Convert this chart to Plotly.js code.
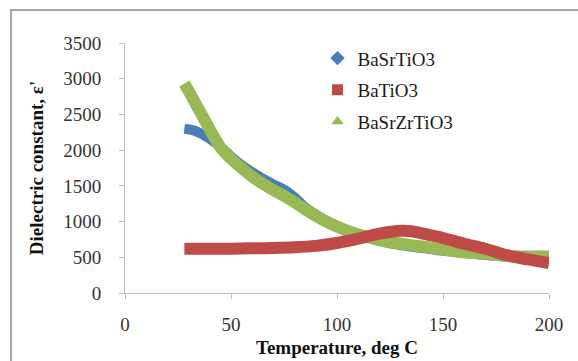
<!DOCTYPE html>
<html>
<head>
<meta charset="utf-8">
<script src="https://cdn.plot.ly/plotly-3.0.1.min.js"></script>
<style>
html,body{margin:0;padding:0;background:#fff;overflow:hidden;width:578px;height:361px;}
#frame{position:absolute;left:10px;top:9px;width:570px;height:360px;border-left:2px solid #a6a6a6;border-top:2px solid #a6a6a6;}
#chart{position:absolute;left:0;top:0;width:578px;height:361px;}
</style>
</head>
<body>
<div id="frame"></div>
<div id="chart"></div>
<script>
// Temperature (deg C) and dielectric constant readings
const tempBST = [28, 32, 36, 40, 45, 50, 55, 60, 65, 70, 75, 80, 85, 90, 95, 100, 105, 110, 120, 130, 140, 150, 160, 170, 180, 190, 200];
const epsBST  = [2300, 2280, 2230, 2160, 2050, 1910, 1790, 1690, 1600, 1520, 1450, 1340, 1200, 1100, 1010, 940, 870, 820, 730, 670, 630, 590, 560, 530, 510, 490, 490];

const tempBT = [28, 40, 50, 60, 70, 80, 90, 100, 110, 120, 130, 135, 140, 150, 160, 170, 180, 190, 200];
const epsBT  = [620, 620, 620, 625, 630, 640, 660, 700, 760, 830, 870, 865, 835, 770, 690, 620, 530, 470, 420];

const tempBSZT = [28, 30, 35, 40, 45, 50, 55, 60, 65, 70, 75, 80, 85, 90, 95, 100, 105, 110, 115, 120, 125, 130, 135, 140, 145, 150, 160, 170, 180, 190, 200];
const epsBSZT  = [2930, 2830, 2560, 2290, 2040, 1880, 1750, 1630, 1530, 1440, 1360, 1270, 1170, 1080, 1000, 930, 870, 820, 780, 740, 710, 690, 670, 650, 630, 610, 570, 550, 520, 510, 510];

const names = ['BaSrTiO3', 'BaTiO3', 'BaSrZrTiO3'];
const colors = ['#4a7ebb', '#be4b48', '#98b954'];
const symbols = ['diamond', 'square', 'triangle-up'];
const xs = [tempBST, tempBT, tempBSZT];
const ys = [epsBST, epsBT, epsBSZT];
const widths = [10, 12, 12];

const traces = [];
[0, 2, 1].forEach(i => {
  traces.push({
    x: xs[i], y: ys[i], type: 'scatter', mode: 'lines',
    line: {color: colors[i], width: widths[i], shape: 'spline', smoothing: 0.8},
    showlegend: false, hoverinfo: 'skip'
  });
});
[0, 1, 2].forEach(i => {
  traces.push({
    x: [null], y: [null], type: 'scatter', mode: 'markers', name: names[i],
    legendgroup: 'g' + i,
    marker: {color: colors[i], symbol: symbols[i], size: 11}
  });
});

const serif = 'Liberation Serif, Times New Roman, serif';
const layout = {
  width: 578, height: 361,
  margin: {l: 125, r: 29, t: 43, b: 68},
  paper_bgcolor: 'rgba(0,0,0,0)',
  plot_bgcolor: 'rgba(0,0,0,0)',
  showlegend: true,
  legend: {x: 0.454, y: 1.015, xanchor: 'left', yanchor: 'top',
    font: {family: serif, size: 19, color: '#1a1a1a'},
    tracegroupgap: 4, bgcolor: 'rgba(0,0,0,0)'},
  xaxis: {
    range: [0, 200], tickvals: [0, 50, 100, 150, 200],
    showgrid: false, zeroline: false, showline: true, linecolor: '#bfbfbf', linewidth: 1,
    ticks: 'outside', ticklen: 5, tickcolor: '#bfbfbf', ticklabelstandoff: 9,
    tickfont: {family: serif, size: 19, color: '#333'},
    title: {text: '<b>Temperature, deg C</b>', font: {family: serif, size: 19, color: '#111'}, standoff: 6}
  },
  yaxis: {
    range: [0, 3500], tickvals: [0, 500, 1000, 1500, 2000, 2500, 3000, 3500],
    showgrid: false, zeroline: false, showline: true, linecolor: '#bfbfbf', linewidth: 1,
    ticks: 'outside', ticklen: 5, tickcolor: '#bfbfbf', ticklabelstandoff: 14,
    tickfont: {family: serif, size: 19, color: '#333'},
    title: {text: "<b>Dielectric constant, ε'</b>", font: {family: serif, size: 19, color: '#111'}, standoff: 14}
  }
};
Plotly.newPlot('chart', traces, layout, {displayModeBar: false, staticPlot: true});
</script>
</body>
</html>
